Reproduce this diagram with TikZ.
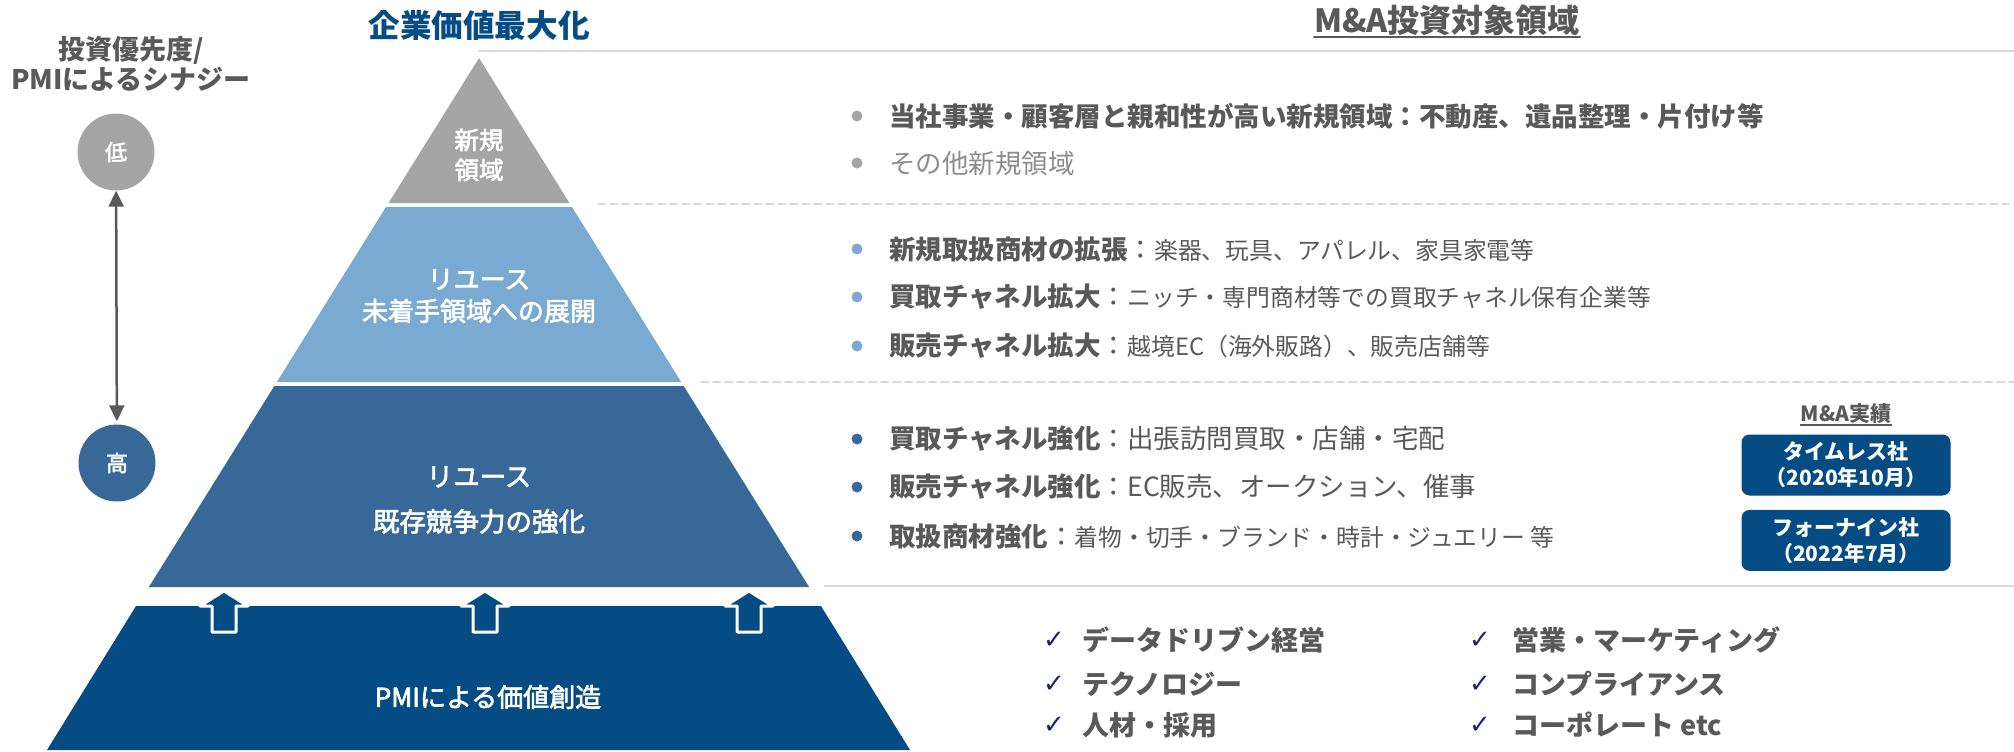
\documentclass[tikz,border=0pt]{standalone}
\usepackage{fontspec}
\setmainfont{Noto Sans CJK JP}
\newfontfamily\midfont{Noto Sans CJK JP}[FakeBold=2.5]
\newfontfamily\symfont{DejaVu Sans}
\newcommand\descsize{\fontsize{23.8}{30}\selectfont}
\usetikzlibrary{arrows.meta,positioning}
\definecolor{tiergray}{HTML}{A5A5A5}
\definecolor{tierlight}{HTML}{7AAAD2}
\definecolor{tiermid}{HTML}{376898}
\definecolor{tierdark}{HTML}{044C83}
\definecolor{textgray}{HTML}{595959}
\definecolor{softgray}{HTML}{8C8C8C}
\definecolor{linegray}{HTML}{D9D9D9}
\definecolor{checknavy}{HTML}{1A2370}
\begin{document}
\begin{tikzpicture}[x=1pt,y=-1pt,line cap=round,line join=round,
	declare function={hw(\t)=0.624*(\t-58);},
	tiertext/.style={text=white,align=center,inner sep=0},
	itemtext/.style={anchor=west,inner sep=0,text=textgray,font=\fontsize{26.5}{30}\selectfont},
	checktext/.style={anchor=west,inner sep=0,text=textgray,font=\bfseries\fontsize{27}{30}\selectfont},
	checkmark/.style={text=checknavy,inner sep=0,font=\symfont\bfseries\fontsize{26}{28}\selectfont},
	recordbox/.style={fill=tierdark,rounded corners=8,minimum width=209,minimum height=61,text=white,align=center,font=\bfseries\fontsize{21}{26}\selectfont},
	levelnode/.style={circle,minimum size=77,inner sep=0,text=white,font=\midfont\fontsize{22}{24}\selectfont},
	upblock/.style={fill=tierdark,draw=white,line width=3}]
	\useasboundingbox (0,0) rectangle (2014,752);
	% pyramid
	\foreach \ta/\tb/\col in {58/203/tiergray,207/382/tierlight,386/587/tiermid}{
		\fill[\col] ({479-hw(\ta)},\ta) -- ({479+hw(\ta)},\ta) -- ({479+hw(\tb)},\tb) -- ({479-hw(\tb)},\tb) -- cycle;
	}
	\fill[tierdark] (136,606) -- (821,606) -- (910,750) -- (47,750) -- cycle;
	\foreach \ax in {224,485,749}{
		\draw[upblock] (\ax,591) -- ++(24,15) -- ++(-12,0) -- ++(0,26) -- ++(-24,0) -- ++(0,-26) -- ++(-12,0) -- cycle;
	}
	\node[tiertext,font=\midfont\fontsize{24.5}{30}\selectfont] (newarea) at (479,155) {新規\\領域};
	\node[tiertext,font=\midfont\fontsize{26}{32}\selectfont] (reusenew) at (479,296) {リユース\\未着手領域への展開};
	\node[tiertext,font=\midfont\fontsize{26.5}{45}\selectfont] (reusecore) at (479,500) {リユース\\既存競争力の強化};
	\node[tiertext,font=\midfont\fontsize{26}{30}\selectfont] (pmi) at (488,697) {PMIによる価値創造};
	% titles
	\node[text=tierdark,inner sep=0,font=\bfseries\fontsize{31.6}{34}\selectfont] (valuetitle) at (479,25) {企業価値最大化};
	\node[text=textgray,inner sep=0,font=\bfseries\fontsize{32}{34}\selectfont] (matitle) at (1447,20) {M\&A投資対象領域};
	\draw[textgray,line width=2] ([yshift=-5pt]matitle.base west) -- ([yshift=-5pt]matitle.base east);
	\node[text=textgray,inner sep=0,align=center,font=\bfseries\fontsize{27}{30}\selectfont] (priority) at (131,64) {投資優先度/\\PMIによるシナジー};
	% priority scale
	\node[levelnode,fill=tiergray] (low) at (116,152) {低};
	\node[levelnode,fill=tiermid] (high) at (117,463) {高};
	\draw[{Triangle[width=15,length=16]}-{Triangle[width=15,length=16]},textgray,line width=2.5,shorten >=3] (low) -- (high);
	% separators
	\draw[linegray,line width=2] (479,51) -- (2014,51);
	\draw[linegray,line width=2,dash pattern=on 7 off 5] (598,204) -- (2014,204);
	\draw[linegray,line width=2,dash pattern=on 7 off 5] (701,382) -- (2014,382);
	\draw[linegray,line width=2.5] (825,586) -- (2014,586);
	% target areas
	\foreach \yy/\col/\txt in {
		116/tiergray/{\bfseries 当社事業・顧客層と親和性が高い新規領域：不動産、遺品整理・片付け等},
		163/tiergray/{\color{softgray}その他新規領域},
		249/tierlight/{\textbf{新規取扱商材の拡張}：{\descsize 楽器、玩具、アパレル、家具家電等}},
		297/tierlight/{\textbf{買取チャネル拡大}：{\descsize ニッチ・専門商材等での買取チャネル保有企業等}},
		346/tierlight/{\textbf{販売チャネル拡大}：{\descsize 越境EC（海外販路）、販売店舗等}},
		439/tiermid/{\textbf{買取チャネル強化}：出張訪問買取・店舗・宅配},
		487/tiermid/{\textbf{販売チャネル強化}：EC販売、オークション、催事},
		536/tiermid/{\textbf{取扱商材強化}：{\descsize 着物・切手・ブランド・時計・ジュエリー 等}}}{
		\fill[\col] (857,\yy) circle (5.5);
		\node[itemtext] (item\yy) at (889,\yy) {\txt};
	}
	% track record
	\node[recordbox] (timeless) at (1846,465) {タイムレス社\\（2020年10月）};
	\node[recordbox,below=14pt of timeless] (fournine) {フォーナイン社\\（2022年7月）};
	\node[text=textgray,inner sep=0,font=\bfseries\fontsize{21}{24}\selectfont,above=11pt of timeless] (record) {M\&A実績};
	\draw[textgray,line width=1.5] ([yshift=-4pt]record.base west) -- ([yshift=-4pt]record.base east);
	% PMI synergies
	\foreach \yy/\txta/\txtb in {640/データドリブン経営/営業・マーケティング,684/テクノロジー/コンプライアンス,725/人材・採用/コーポレート etc}{
		\node[checkmark] (checka\yy) at (1054,\yy) {✓};
		\node[checktext] (syna\yy) at (1082,\yy) {\txta};
		\node[checkmark] (checkb\yy) at (1480,\yy) {✓};
		\node[checktext] (synb\yy) at (1512,\yy) {\txtb};
	}
\end{tikzpicture}
\end{document}
